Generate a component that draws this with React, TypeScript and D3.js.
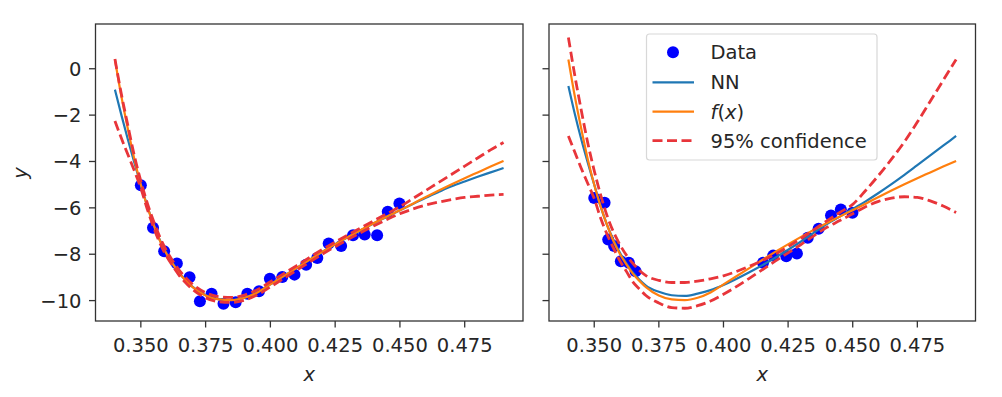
import React from "react";
import * as d3 from "d3";

const xGrid = [0.34, 0.3425, 0.345, 0.3475, 0.35, 0.3525, 0.355, 0.3575, 0.36, 0.3625, 0.365, 0.3675, 0.37, 0.375, 0.38, 0.385, 0.39, 0.395, 0.40, 0.41, 0.42, 0.43, 0.44, 0.445, 0.45, 0.455, 0.46, 0.465, 0.47, 0.475, 0.48, 0.485, 0.49];

const fTrue = [0.4, -1.2, -2.6, -3.9, -5.0, -5.95, -6.75, -7.45, -8.0, -8.45, -8.85, -9.15, -9.42, -9.78, -9.95, -9.98, -9.88, -9.65, -9.3, -8.6, -7.9, -7.25, -6.65, -6.37, -6.1, -5.82, -5.53, -5.25, -4.98, -4.72, -4.47, -4.22, -3.98];

const nnLeft = [-0.9, -2.0, -3.05, -4.05, -5.0, -5.93, -6.73, -7.43, -7.98, -8.43, -8.83, -9.14, -9.41, -9.77, -9.94, -9.97, -9.87, -9.64, -9.3, -8.6, -7.9, -7.26, -6.66, -6.38, -6.1, -5.83, -5.56, -5.31, -5.07, -4.86, -4.66, -4.47, -4.28];
const upperLeft = [0.42, -1.1, -2.45, -3.75, -4.85, -5.8, -6.6, -7.3, -7.86, -8.32, -8.72, -9.03, -9.3, -9.66, -9.83, -9.86, -9.76, -9.53, -9.19, -8.5, -7.8, -7.16, -6.55, -6.25, -5.95, -5.6, -5.25, -4.9, -4.55, -4.2, -3.85, -3.5, -3.18];
const lowerLeft = [-2.25, -3.0, -3.7, -4.4, -5.15, -6.06, -6.86, -7.56, -8.1, -8.54, -8.94, -9.25, -9.52, -9.88, -10.05, -10.08, -9.98, -9.75, -9.41, -8.7, -8.0, -7.36, -6.77, -6.5, -6.25, -6.05, -5.88, -5.75, -5.64, -5.55, -5.5, -5.45, -5.42];

const nnRight = [-0.74, -1.95, -3.05, -4.05, -5.0, -5.95, -6.75, -7.4, -7.95, -8.4, -8.8, -9.1, -9.35, -9.62, -9.77, -9.8, -9.7, -9.55, -9.33, -8.78, -8.15, -7.45, -6.7, -6.38, -6.05, -5.72, -5.36, -4.98, -4.58, -4.16, -3.74, -3.32, -2.9];
const upperRight = [1.35, -0.3, -1.8, -3.2, -4.4, -5.45, -6.35, -7.05, -7.6, -8.05, -8.4, -8.7, -8.92, -9.13, -9.22, -9.22, -9.16, -9.06, -8.93, -8.52, -8.0, -7.32, -6.56, -6.2, -5.85, -5.25, -4.6, -3.9, -3.15, -2.3, -1.4, -0.5, 0.4];
const lowerRight = [-2.9, -3.6, -4.3, -4.95, -5.6, -6.45, -7.15, -7.75, -8.3, -8.75, -9.2, -9.5, -9.78, -10.1, -10.3, -10.33, -10.22, -10.02, -9.73, -9.04, -8.3, -7.58, -6.84, -6.55, -6.25, -5.95, -5.72, -5.58, -5.52, -5.55, -5.7, -5.92, -6.2];

const dataLeftX = [0.350, 0.3547, 0.359, 0.3639, 0.3688, 0.3728, 0.3773, 0.3819, 0.3866, 0.3911, 0.3956, 0.3998, 0.4046, 0.4093, 0.4138, 0.4181, 0.4225, 0.4273, 0.4319, 0.4364, 0.4412, 0.4453, 0.4498];
const dataLeftY = [-5.02, -6.86, -7.87, -8.40, -8.99, -10.03, -9.70, -10.14, -10.07, -9.70, -9.60, -9.06, -8.98, -8.88, -8.45, -8.16, -7.54, -7.65, -7.18, -7.15, -7.18, -6.17, -5.81];

const dataRightX = [0.3500, 0.3540, 0.3554, 0.3577, 0.3603, 0.3634, 0.366, 0.4153, 0.4192, 0.4243, 0.4284, 0.4326, 0.4368, 0.4416, 0.4454, 0.4499];
const dataRightY = [-5.57, -5.78, -7.37, -7.65, -8.30, -8.37, -8.73, -8.37, -8.06, -8.09, -7.97, -7.29, -6.90, -6.33, -6.07, -6.21];

const xTicks = [0.35, 0.375, 0.4, 0.425, 0.45, 0.475];
const yTicks = [0, -2, -4, -6, -8, -10];
const legendLabels = ["Data", "NN", "f(x)", "95% confidence"];

const FONT = "'DejaVu Sans', sans-serif";
const FS = 19.5;
const BLUE = "#1f77b4";
const ORANGE = "#ff7f0e";
const RED = "#e8353a";
const DOT = "#0000ff";
const TXT = "#262626";

const top = 24;
const bottom = 321;
const yScale = d3.scaleLinear().domain([-10.88, 1.93]).range([bottom, top]);

type PanelProps = {
  x0: number;
  x1: number;
  nn: number[];
  up: number[];
  lo: number[];
  dx: number[];
  dy: number[];
  showY: boolean;
  clipId: string;
};

function Panel({ x0, x1, nn, up, lo, dx, dy, showY, clipId }: PanelProps) {
  const xScale = d3.scaleLinear().domain([0.3325, 0.4975]).range([x0, x1]);
  const line = d3
    .line<number>()
    .x((_, i) => xScale(xGrid[i]))
    .y((d) => yScale(d))
    .curve(d3.curveMonotoneX);
  const fmt = d3.format(".3f");
  const yfmt = (v: number) => (v < 0 ? "\u2212" + Math.abs(v) : String(v));
  return (
    <g>
      <defs>
        <clipPath id={clipId}>
          <rect x={x0} y={top} width={x1 - x0} height={bottom - top} />
        </clipPath>
      </defs>
      <g clipPath={`url(#${clipId})`}>
        {dx.map((v, i) => (
          <circle key={i} cx={xScale(v)} cy={yScale(dy[i])} r={6} fill={DOT} />
        ))}
        <path d={line(nn) || ""} fill="none" stroke={BLUE} strokeWidth={2.2} />
        <path d={line(fTrue) || ""} fill="none" stroke={ORANGE} strokeWidth={2.2} />
        <path d={line(up) || ""} fill="none" stroke={RED} strokeWidth={2.8} strokeDasharray="10,4.5" />
        <path d={line(lo) || ""} fill="none" stroke={RED} strokeWidth={2.8} strokeDasharray="10,4.5" />
      </g>
      <rect x={x0} y={top} width={x1 - x0} height={bottom - top} fill="none" stroke="#333" strokeWidth={1.3} />
      {xTicks.map((t) => (
        <g key={t}>
          <line x1={xScale(t)} x2={xScale(t)} y1={bottom} y2={bottom + 6.5} stroke="#333" strokeWidth={1.3} />
          <text x={xScale(t)} y={352} textAnchor="middle" fontFamily={FONT} fontSize={FS} fill={TXT}>
            {fmt(t)}
          </text>
        </g>
      ))}
      {yTicks.map((t) => (
        <g key={t}>
          <line x1={x0 - 6.5} x2={x0} y1={yScale(t)} y2={yScale(t)} stroke="#333" strokeWidth={1.3} />
          {showY && (
            <text x={x0 - 14} y={yScale(t) + 7} textAnchor="end" fontFamily={FONT} fontSize={FS} fill={TXT}>
              {yfmt(t)}
            </text>
          )}
        </g>
      ))}
      <text x={(x0 + x1) / 2} y={381} textAnchor="middle" fontFamily={FONT} fontSize={FS} fontStyle="italic" fill={TXT}>
        x
      </text>
    </g>
  );
}

export default function App() {
  const lx = 673;
  const rows = [52.3, 82.3, 111.7, 140.7];
  return (
    <svg width={1002} height={397} style={{ position: "absolute", left: 0, top: 0, background: "#fff" }}>
      <rect x={0} y={0} width={1002} height={397} fill="#fff" />
      <Panel x0={95.5} x1={523} nn={nnLeft} up={upperLeft} lo={lowerLeft} dx={dataLeftX} dy={dataLeftY} showY={true} clipId="cl" />
      <Panel x0={549} x1={975.5} nn={nnRight} up={upperRight} lo={lowerRight} dx={dataRightX} dy={dataRightY} showY={false} clipId="cr" />
      <text transform={`translate(27,173) rotate(-90)`} textAnchor="middle" fontFamily={FONT} fontSize={FS} fontStyle="italic" fill={TXT}>
        y
      </text>
      <g>
        <rect x={646.5} y={34} width={230.5} height={126} rx={3} fill="#fff" fillOpacity={0.85} stroke="#d8d8d8" strokeWidth={1.2} />
        <circle cx={lx} cy={rows[0]} r={6} fill={DOT} />
        <line x1={652.5} x2={694} y1={rows[1]} y2={rows[1]} stroke={BLUE} strokeWidth={2.2} />
        <line x1={652.5} x2={694} y1={rows[2]} y2={rows[2]} stroke={ORANGE} strokeWidth={2.2} />
        <line x1={652.5} x2={694} y1={rows[3]} y2={rows[3]} stroke={RED} strokeWidth={2.8} strokeDasharray="10,4.5" />
        {legendLabels.map((lab, i) => (
          <text key={lab} x={710.5} y={rows[i] + 7} fontFamily={FONT} fontSize={FS} fill={TXT}>
            {lab === "f(x)" ? (
              <>
                <tspan fontStyle="italic">f</tspan>
                <tspan>(</tspan>
                <tspan fontStyle="italic">x</tspan>
                <tspan>)</tspan>
              </>
            ) : (
              lab
            )}
          </text>
        ))}
      </g>
    </svg>
  );
}
